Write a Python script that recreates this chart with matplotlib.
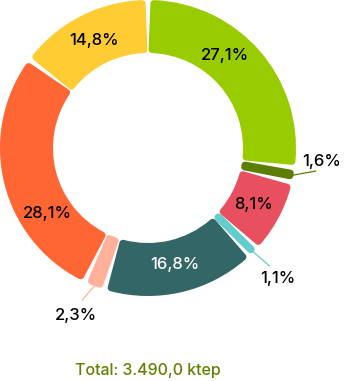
import numpy as np
import matplotlib
matplotlib.use("Agg")
from matplotlib import pyplot as plt

# shares of the total, clockwise from the top
values = [27.1, 1.6, 8.1, 1.1, 16.8, 2.3, 28.1, 14.8]
labels = ["27,1%", "1,6%", "8,1%", "1,1%", "16,8%", "2,3%", "28,1%", "14,8%"]
colors = ["#99cc00", "#5b7d00", "#e85060", "#63cccc", "#336666",
          "#ffb19b", "#ff6633", "#ffcc33"]
total_text = "Total: 3.490,0 ktep"

plt.rcParams['font.family'] = ['Inter', 'DejaVu Sans']

W, H = 363, 381
fig = plt.figure(figsize=(W / 100, H / 100), dpi=100)
# ring: centre (148,148) px, outer radius 148 px
ax = fig.add_axes([0, (H - 296) / H, 296 / W, 296 / H])

R = 148.0            # px
r_in = 95.0          # px
stroke = 7.0         # px, rounded corners
gap = 3.0            # px between slices
px = 1.0 / R

wedges, _ = ax.pie(values, colors=colors, startangle=90, counterclock=False,
                   radius=1 - stroke / 2 * px,
                   wedgeprops=dict(width=(R - r_in - stroke) * px))
ax.set_xlim(-1, 1)
ax.set_ylim(-1, 1)
ax.set_aspect('equal')
ax.axis('off')

r_mid = (R + r_in) / 2
for w in wedges:
    t1, t2 = w.theta1, w.theta2
    half = np.degrees((gap + stroke) / 2 / r_mid)
    span = t2 - t1
    if span - 2 * half < 0.3:
        half = (span - 0.3) / 2
    w.set_theta1(t1 + half)
    w.set_theta2(t2 - half)
    w.set_edgecolor(w.get_facecolor())
    w.set_linewidth(stroke * 72 / 100)
    w.set_joinstyle('round')

# inside labels (angle nudges in degrees for the two big slices)
nudge = {0: 9, 6: 19}
inside = [0, 2, 4, 6, 7]
for i in inside:
    w = wedges[i]
    ang = np.radians((w.theta1 + w.theta2) / 2 + nudge.get(i, 0))
    rr = 120 * px
    ax.text(rr * np.cos(ang), rr * np.sin(ang), labels[i],
            ha='center', va='center', fontsize=12, fontweight='medium',
            color='white' if i == 4 else 'black')

# outside labels with leader lines: (index, line end px offset, text px offset)
outside = {1: ((22, 4), (28, 14)), 3: ((16, -14), (24, -27)), 5: ((-12, -14), (-18, -30))}
for i, (lend, tpos) in outside.items():
    w = wedges[i]
    ang = np.radians((w.theta1 + w.theta2) / 2)
    x0, y0 = np.cos(ang), np.sin(ang)
    x1, y1 = x0 + lend[0] * px, y0 + lend[1] * px
    ax.plot([x0, x1], [y0, y1], color=colors[i], lw=0.9, clip_on=False)
    ax.text(x0 + tpos[0] * px, y0 + tpos[1] * px, labels[i],
            ha='center', va='center', fontsize=12, fontweight='medium',
            color='black', clip_on=False)

fig.text(148 / W, 1 - 370 / H, total_text, ha='center', va='center',
         fontsize=11.5, fontweight='medium', color='#5f8000')

fig.savefig("out.png", dpi=100)
